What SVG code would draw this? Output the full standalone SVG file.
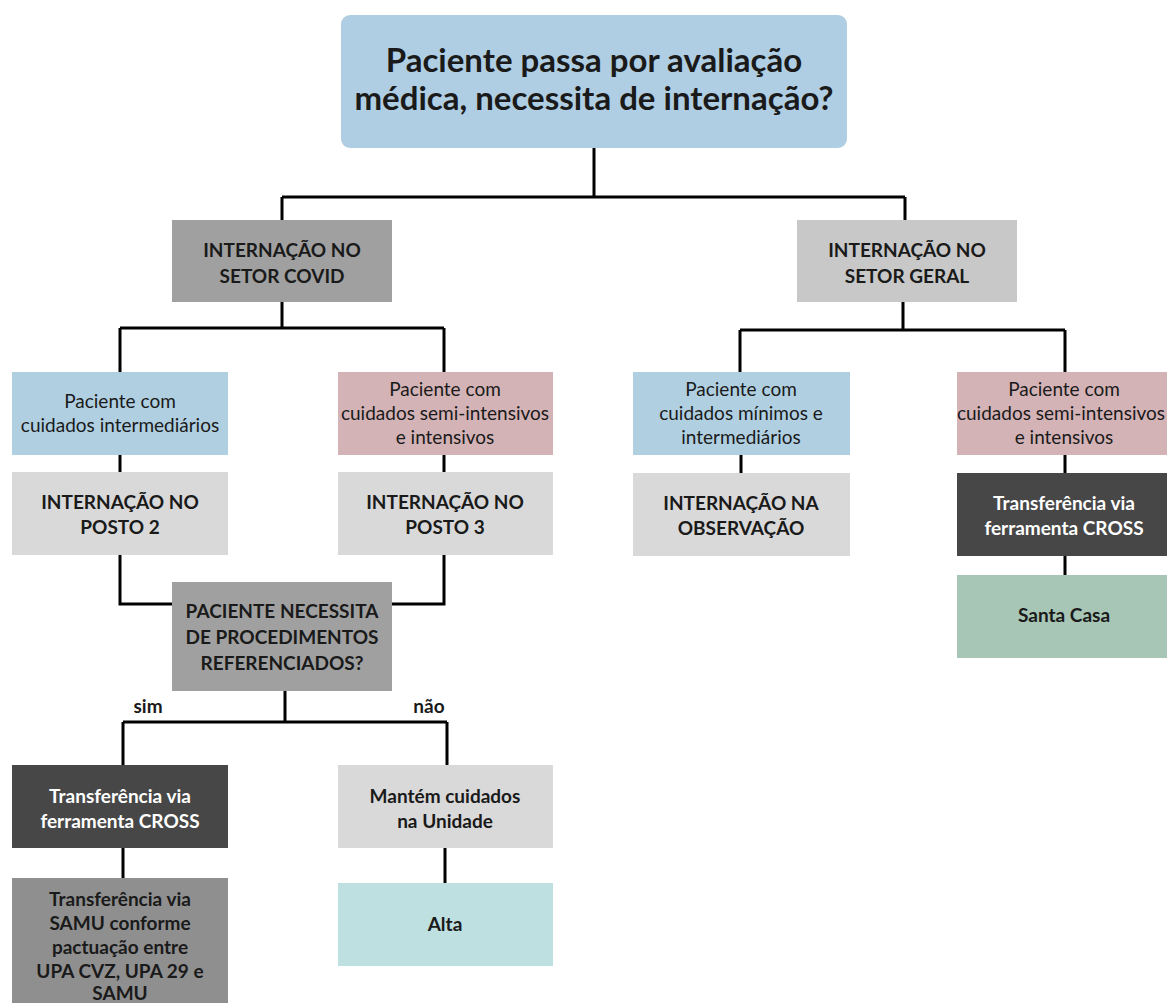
<svg xmlns="http://www.w3.org/2000/svg" width="1167" height="1003" viewBox="0 0 1167 1003">
<style>
.t{font-family:Lato,"Open Sans",sans-serif;fill:#1a1a1a;text-anchor:middle}
.b{font-weight:bold;font-size:19px}
.n{font-size:19px}
.w{fill:#ffffff}
.c{fill:none;stroke:#000;stroke-width:3}
</style>
<rect width="1167" height="1003" fill="#ffffff"/>
<g id="connectors" class="c">
<path d="M594 148V197M282 197H905M282 197V220M905 197V220"/>
<path d="M282 302V328M120 328H444M120 328V372M444 328V372"/>
<path d="M120 455V472M444 455V472"/>
<path d="M120 555V604H172M444 555V604H392"/>
<path d="M285 691V722M123 722H447M123 722V765M447 722V765"/>
<path d="M123 848V878M445 848V883"/>
<path d="M903 302V330M740 330H1065M740 330V372M1065 330V372"/>
<path d="M741 455V473M1065 455V473M1065 556V575"/>
</g>
<g id="top">
<rect x="341" y="15" width="506" height="133" rx="9" fill="#afcee3"/>
<text class="t" x="594" y="72" font-size="33" font-weight="bold">Paciente passa por avaliação</text>
<text class="t" x="594" y="110" font-size="33" font-weight="bold">médica, necessita de internação?</text>
</g>
<g id="covid">
<rect x="172" y="220" width="220" height="82" fill="#a0a0a0"/>
<text class="t b" x="282" y="257">INTERNAÇÃO NO</text>
<text class="t b" x="282" y="283">SETOR COVID</text>
</g>
<g id="geral">
<rect x="797" y="220" width="220" height="82" fill="#c8c8c8"/>
<text class="t b" x="907" y="257">INTERNAÇÃO NO</text>
<text class="t b" x="907" y="283">SETOR GERAL</text>
</g>
<g id="covid-intermed">
<rect x="12" y="372" width="216" height="83" fill="#b0d0e2"/>
<text class="t n" x="120" y="408">Paciente com</text>
<text class="t n" x="120" y="432">cuidados intermediários</text>
</g>
<g id="covid-semi">
<rect x="338" y="372" width="215" height="83" fill="#d4b3b6"/>
<text class="t n" x="445" y="396">Paciente com</text>
<text class="t n" x="445" y="420">cuidados semi-intensivos</text>
<text class="t n" x="445" y="444">e intensivos</text>
</g>
<g id="posto2">
<rect x="12" y="472" width="216" height="83" fill="#d9d9d9"/>
<text class="t b" x="120" y="509">INTERNAÇÃO NO</text>
<text class="t b" x="120" y="534">POSTO 2</text>
</g>
<g id="posto3">
<rect x="338" y="472" width="215" height="83" fill="#d9d9d9"/>
<text class="t b" x="445" y="509">INTERNAÇÃO NO</text>
<text class="t b" x="445" y="534">POSTO 3</text>
</g>
<g id="procedimentos">
<rect x="172" y="582" width="220" height="109" fill="#a0a0a0"/>
<text class="t b" x="282" y="618">PACIENTE NECESSITA</text>
<text class="t b" x="282" y="644">DE PROCEDIMENTOS</text>
<text class="t b" x="282" y="670">REFERENCIADOS?</text>
</g>
<g id="labels">
<text class="t b" x="148" y="713">sim</text>
<text class="t b" x="429" y="713">não</text>
</g>
<g id="cross-left">
<rect x="12" y="765" width="216" height="83" fill="#474747"/>
<text class="t b w" x="120" y="803">Transferência via</text>
<text class="t b w" x="120" y="828">ferramenta CROSS</text>
</g>
<g id="mantem">
<rect x="338" y="765" width="215" height="83" fill="#d9d9d9"/>
<text class="t b" x="445" y="803">Mantém cuidados</text>
<text class="t b" x="445" y="828">na Unidade</text>
</g>
<g id="samu">
<rect x="12" y="878" width="216" height="125" fill="#8f8f8f"/>
<text class="t b" x="120" y="906">Transferência via</text>
<text class="t b" x="120" y="930">SAMU conforme</text>
<text class="t b" x="120" y="954">pactuação entre</text>
<text class="t b" x="120" y="978">UPA CVZ, UPA 29 e</text>
<text class="t b" x="120" y="1000">SAMU</text>
</g>
<g id="alta">
<rect x="338" y="883" width="215" height="83" fill="#bfe0e0"/>
<text class="t b" x="445" y="931">Alta</text>
</g>
<g id="geral-minimos">
<rect x="633" y="372" width="217" height="83" fill="#b0d0e2"/>
<text class="t n" x="741" y="396">Paciente com</text>
<text class="t n" x="741" y="420">cuidados mínimos e</text>
<text class="t n" x="741" y="444">intermediários</text>
</g>
<g id="geral-semi">
<rect x="957" y="372" width="210" height="83" fill="#d4b3b6"/>
<text class="t n" x="1064" y="396">Paciente com</text>
<text class="t n" x="1061" y="420">cuidados semi-intensivos</text>
<text class="t n" x="1064" y="444">e intensivos</text>
</g>
<g id="observacao">
<rect x="633" y="473" width="217" height="83" fill="#d9d9d9"/>
<text class="t b" x="741" y="510">INTERNAÇÃO NA</text>
<text class="t b" x="741" y="535">OBSERVAÇÃO</text>
</g>
<g id="cross-right">
<rect x="957" y="473" width="210" height="83" fill="#474747"/>
<text class="t b w" x="1064" y="510">Transferência via</text>
<text class="t b w" x="1064" y="535">ferramenta CROSS</text>
</g>
<g id="santa-casa">
<rect x="957" y="575" width="210" height="83" fill="#a8c6b6"/>
<text class="t b" x="1064" y="622">Santa Casa</text>
</g>
</svg>
